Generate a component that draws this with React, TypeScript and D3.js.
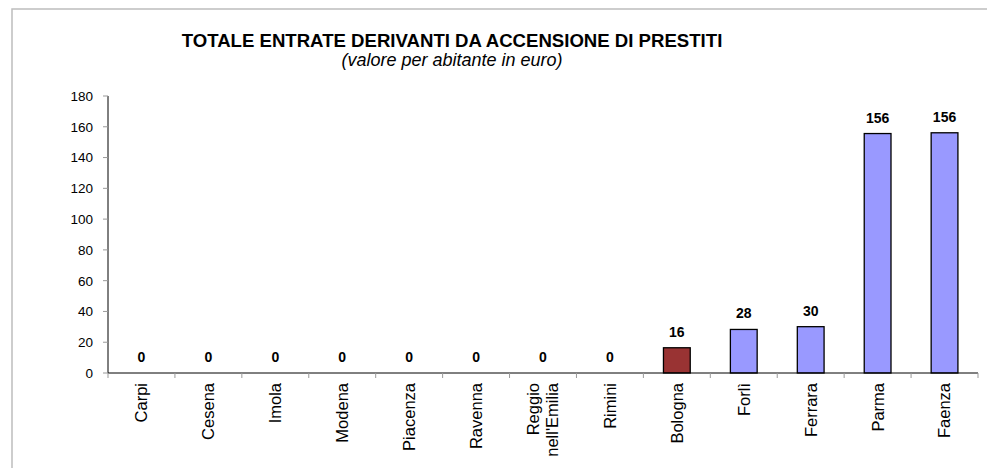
import React from 'react';
import * as d3 from 'd3';

// chart data
const categories = ['Carpi', 'Cesena', 'Imola', 'Modena', 'Piacenza', 'Ravenna', "Reggio nell'Emilia", 'Rimini', 'Bologna', 'Forlì', 'Ferrara', 'Parma', 'Faenza'];
const values = [0, 0, 0, 0, 0, 0, 0, 0, 16.4, 28.3, 30.1, 155.6, 156.1];
const highlighted = ['Bologna'];
const yTicks = [0, 20, 40, 60, 80, 100, 120, 140, 160, 180];

const title = 'TOTALE ENTRATE DERIVANTI DA ACCENSIONE DI PRESTITI';
const subtitle = '(valore per abitante in euro)';

const W = 987;
const H = 468;
const left = 108;
const right = 978;
const top = 96;
const bottom = 373;
const font = '"Liberation Sans", Arial, sans-serif';

const App = () => {
  const x = d3.scaleBand<string>()
    .domain(categories)
    .range([left, right])
    .paddingInner(0.6)
    .paddingOuter(0.3);

  const y = d3.scaleLinear()
    .domain([0, 180])
    .range([bottom, top]);

  const step = x.step();

  // split long category names into lines
  const lines = (c: string) => (c === "Reggio nell'Emilia" ? ['Reggio', "nell'Emilia"] : [c]);

  return (
    <svg width={W} height={H} style={{ position: 'fixed', left: 0, top: 0, background: '#fff' }} fontFamily={font}>
      {/* outer frame */}
      <rect x={12} y={9} width={W} height={H} fill="#fff" stroke="#bdbdbd" strokeWidth={1.5} />

      {/* titles */}
      <text x={452} y={47} textAnchor="middle" fontSize={18.6} fontWeight="bold">{title}</text>
      <text x={452} y={66} textAnchor="middle" fontSize={18} fontStyle="italic">{subtitle}</text>

      {/* y axis */}
      <line x1={left} x2={left} y1={top} y2={bottom} stroke="#000" strokeWidth={1} />
      {yTicks.map(t => (
        <g key={t}>
          <line x1={left - 5} x2={left} y1={y(t)} y2={y(t)} stroke="#999" />
          <text x={93} y={y(t)} dy="0.36em" textAnchor="end" fontSize={13.5}>{t}</text>
        </g>
      ))}

      {/* bars */}
      {categories.map((c, i) => values[i] > 0 && (
        <rect
          key={c}
          x={x(c)}
          y={y(values[i])}
          width={x.bandwidth()}
          height={bottom - y(values[i])}
          fill={highlighted.includes(c) ? '#993333' : '#9999ff'}
          stroke="#000"
          strokeWidth={1.3}
        />
      ))}

      {/* x axis */}
      <line x1={left} x2={right} y1={bottom} y2={bottom} stroke="#000" strokeWidth={1} />
      {d3.range(categories.length + 1).map(i => (
        <line key={i} x1={left + i * step} x2={left + i * step} y1={bottom} y2={bottom + 5} stroke="#999" />
      ))}

      {/* value labels */}
      {categories.map((c, i) => (
        <text key={c} x={x(c)! + x.bandwidth() / 2} y={y(values[i]) - 11} textAnchor="middle" fontSize={14} fontWeight="bold">
          {Math.round(values[i])}
        </text>
      ))}

      {/* category labels */}
      {categories.map(c => {
        const cx = x(c)! + x.bandwidth() / 2;
        const ls = lines(c);
        return ls.map((l, j) => {
          const lx = cx + (j - (ls.length - 1) / 2) * 19;
          return (
            <text key={c + j} transform={`translate(${lx},383) rotate(-90)`} dy="0.36em" textAnchor="end" fontSize={16.5}>{l}</text>
          );
        });
      })}
    </svg>
  );
};

export default App;
